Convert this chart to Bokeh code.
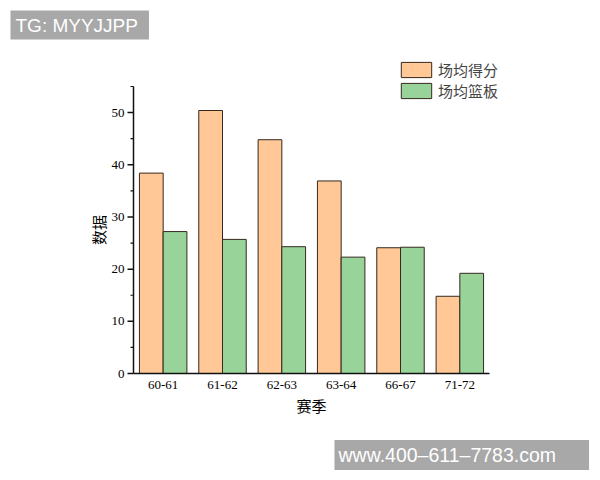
import numpy as np
from bokeh.plotting import figure
from bokeh.models import Range1d, Legend, LegendItem, Label, ColumnDataSource
from bokeh.core.properties import value
from bokeh.transform import dodge
from bokeh.embed import file_html
from bokeh.resources import INLINE

# Season averages
seasons = ["60-61", "61-62", "62-63", "63-64", "66-67", "71-72"]
points = [38.4, 50.4, 44.8, 36.9, 24.1, 14.8]
rebounds = [27.2, 25.7, 24.3, 22.3, 24.2, 19.2]

series_names = ["场均得分", "场均篮板"]
x_title = "赛季"
y_title = "数据"
y_major = [0, 10, 20, 30, 40, 50]
y_minor = [5, 15, 25, 35, 45, 55]
y_top = 55

# Canvas and where the plot area sits inside it
W, H = 600, 480
LEFT, RIGHT, TOP, BOTTOM = 133, 489, 86, 373
n = len(seasons)
x_scale = (RIGHT - LEFT) / n
y_scale = (BOTTOM - TOP) / y_top

p = figure(width=W, height=H, output_backend="svg", toolbar_location=None,
           x_axis_type=None, y_axis_type=None,
           x_range=Range1d(-LEFT / x_scale, n + (W - RIGHT) / x_scale),
           y_range=Range1d(-(H - BOTTOM) / y_scale, y_top + TOP / y_scale),
           min_border=0)
p.outline_line_color = None
p.xgrid.grid_line_color = None
p.ygrid.grid_line_color = None
p.background_fill_color = "white"
p.border_fill_color = "white"

centers = np.arange(n) + 0.5
source = ColumnDataSource(dict(x=centers, season=seasons, points=points, rebounds=rebounds))

orange = "#FFC896"
green = "#98D49A"
edge = "#35281e"

r1 = p.vbar(x=dodge("x", -0.2), top="points", width=0.4, bottom=0,
            source=source, fill_color=orange, line_color=edge, line_width=1)
r2 = p.vbar(x=dodge("x", 0.2), top="rebounds", width=0.4, bottom=0,
            source=source, fill_color=green, line_color=edge, line_width=1)

serif = "Liberation Serif"
cjk = "Noto Sans CJK SC"
ink = "#111111"

# Axis lines
p.segment(x0=[0, 0], y0=[0, 0], x1=[0, n], y1=[y_top, 0], line_color=ink, line_width=1.5)

# Y ticks pointing outward
p.ray(x=0, y=y_major, length=6, length_units="screen", angle=np.pi,
      line_color=ink, line_width=1.5)
p.ray(x=0, y=y_minor, length=3, length_units="screen", angle=np.pi,
      line_color=ink, line_width=1.2)

# Tick labels
p.text(x=0, y=y_major, text=[str(v) for v in y_major], x_offset=-9,
       text_align="right", text_baseline="middle", text_font=value(serif),
       text_font_size="13px", text_color="black")
p.text(x=centers, y=0, text=seasons, y_offset=7, text_align="center",
       text_baseline="top", text_font=value(serif), text_font_size="13px",
       text_color="black")

# Axis titles
p.text(x=0, y=y_top / 2, text=[y_title], x_offset=-35, angle=np.pi / 2,
       text_align="center", text_baseline="middle", text_font=value(cjk),
       text_font_size="15px", text_color="black")
p.text(x=n / 2, y=0, text=[x_title], y_offset=32, text_align="center",
       text_baseline="middle", text_font=value(cjk), text_font_size="15px",
       text_color="black")

legend = Legend(items=[LegendItem(label=series_names[0], renderers=[r1]),
                       LegendItem(label=series_names[1], renderers=[r2])],
                location=(397, 379), orientation="vertical",
                glyph_width=38, glyph_height=19, label_height=19, spacing=-3,
                padding=0, margin=0, label_standoff=3,
                label_text_font=cjk, label_text_font_size="15px",
                border_line_color=None, background_fill_alpha=0)
p.add_layout(legend, "center")

# Corner banners
wm_top = Label(x=10, y=H - 24.5, x_units="screen", y_units="screen", text="TG: MYYJJPP",
               text_font="Liberation Sans", text_font_size="19px", text_color="white",
               text_baseline="middle",
               background_fill_color="#a8a8a8", padding=(5, 11, 4, 4))
wm_bot = Label(x=334, y=H - 454.5, x_units="screen", y_units="screen",
               text="www.400–611–7783.com",
               text_font="Liberation Sans", text_font_size="19.5px", text_color="white",
               text_baseline="middle",
               background_fill_color="#a8a8a8", padding=(4, 33, 4, 4))
p.add_layout(wm_top)
p.add_layout(wm_bot)

open("out.html", "w").write(file_html(p, INLINE))
